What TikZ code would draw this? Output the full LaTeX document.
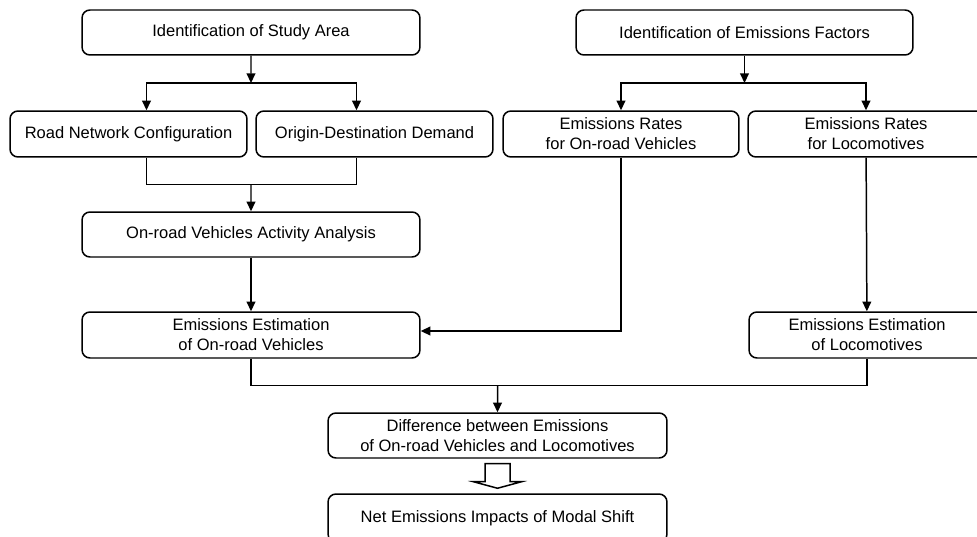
\documentclass[tikz,border=0pt]{standalone}
\usepackage{fontspec}
\setmainfont{Liberation Sans}
\usetikzlibrary{arrows.meta,calc}
\begin{document}
\begin{tikzpicture}[x=0.02cm,y=-0.02cm]
  \tikzstyle{cbox} = [draw=black, line width=0.85pt, rounded corners=4.5pt, minimum height=0.9cm, align=center, font=\fontsize{9.4pt}{11.4pt}\selectfont]
  \tikzstyle{arr} = [line width=0.85pt, -{Triangle[length=5.5pt,width=5pt]}]
  \useasboundingbox (0,0) rectangle (977,537);
  \clip (0,0) rectangle (977,537);

  \node[cbox, minimum width=6.76cm] (study) at (251,32.5) {Identification of Study Area};
  \node[cbox, minimum width=6.74cm] (factors) at (744.5,32.5) {Identification of Emissions Factors};
  \node[cbox, minimum width=4.74cm, minimum height=0.92cm] (road) at (128.5,134) {Road Network Configuration};
  \node[cbox, minimum width=4.74cm, minimum height=0.92cm] (od) at (374.5,134) {Origin-Destination Demand};
  \node[cbox, minimum width=4.72cm, minimum height=0.92cm] (ratesveh) at (621,134) {Emissions Rates\\for On-road Vehicles};
  \node[cbox, minimum width=4.72cm, minimum height=0.92cm] (ratesloco) at (866,134) {Emissions Rates\\for Locomotives};
  \node[cbox, minimum width=6.76cm] (activity) at (251,234.5) {On-road Vehicles Activity Analysis};
  \node[cbox, minimum width=6.76cm, minimum height=0.92cm] (estveh) at (251,335) {Emissions Estimation\\of On-road Vehicles};
  \node[cbox, minimum width=4.72cm, minimum height=0.92cm] (estloco) at (867,335) {Emissions Estimation\\of Locomotives};
  \node[cbox, minimum width=6.78cm] (diff) at (497.5,435.5) {Difference between Emissions\\of On-road Vehicles and Locomotives};
  \node[cbox, minimum width=6.78cm, minimum height=0.96cm] (net) at (497.5,518) {Net Emissions Impacts of Modal Shift};

  % junctions
  \coordinate (j1) at ($(study.south)!0.5!(study.south |- road.north)$);
  \coordinate (j2) at ($(activity.north)!0.5!(activity.north |- road.south)$);
  \coordinate (j3) at ($(factors.south)!0.5!(factors.south |- ratesveh.north)$);
  \coordinate (j4) at ($(diff.north)!0.5!(diff.north |- estveh.south)$);

  \draw[arr] (study.south) -- (j1);
  \draw[arr] (j1) -| ($(road.north)+(18,0)$);
  \draw[arr] (j1) -| ($(od.north)+(-18,0)$);
  \draw[line width=0.85pt] ($(road.south)+(18,0)$) |- (j2) -| ($(od.south)+(-18,0)$);
  \draw[arr] (j2) -- (activity.north);
  \draw[arr] (activity) -- (estveh);

  \draw[arr] (factors.south) -- (j3);
  \draw[arr] (j3) -| (ratesveh.north);
  \draw[arr] (j3) -| (ratesloco.north);
  \draw[arr] (ratesveh.south) |- ($(estveh.east)+(0,-4)$);
  \draw[arr] (ratesloco) -- (estloco);

  \draw[line width=0.85pt] (estveh.south) |- (j4) -| (estloco.south);
  \draw[arr] (j4) -- (diff.north);

  % hollow arrow
  \draw[line width=0.85pt, line join=miter] ($(diff.south)+(-12.5,5)$) -- ($(diff.south)+(12.5,5)$)
    -- ($(diff.south)+(12.5,23)$) -- ($(diff.south)+(24,23)$) -- ($(net.north)+(0,-5)$)
    -- ($(diff.south)+(-24,23)$) -- ($(diff.south)+(-12.5,23)$) -- cycle;
\end{tikzpicture}
\end{document}
